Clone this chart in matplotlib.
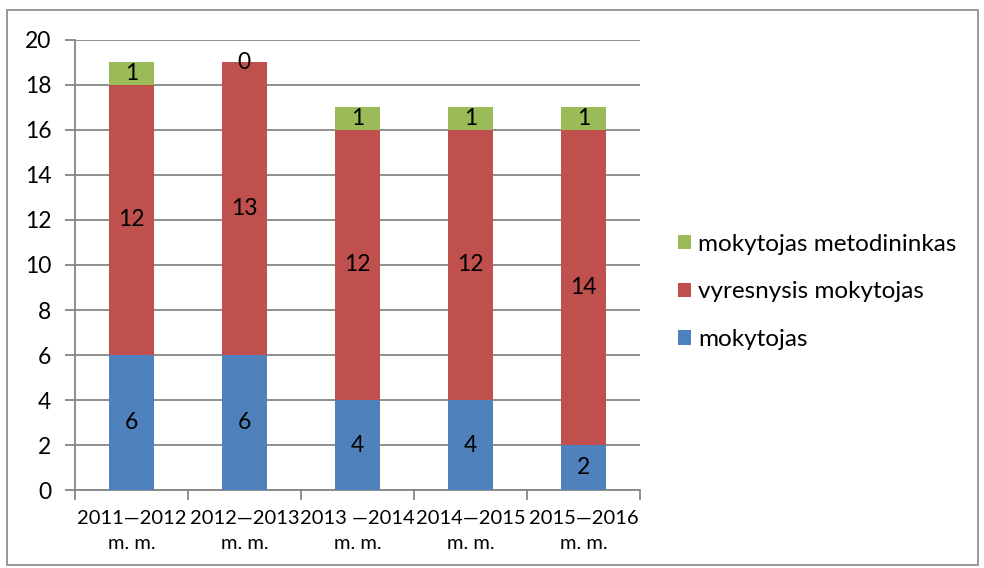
import numpy as np
import matplotlib.pyplot as plt
from matplotlib.patches import Rectangle

plt.rcParams['font.family'] = ['Lato', 'DejaVu Sans']

years = ["2011\u20142012\nm. m.", "2012\u20142013\nm. m.", "2013 \u20142014\nm. m.",
         "2014\u20142015\nm. m.", "2015\u20142016\nm. m."]
mokytojas = [6, 6, 4, 4, 2]
vyresnysis = [12, 13, 12, 12, 14]
metodininkas = [1, 0, 1, 1, 1]

c_blue = "#4F81BD"
c_red = "#C0504D"
c_green = "#9BBB59"

fig = plt.figure(figsize=(9.84, 5.68), dpi=100)
ax = fig.add_axes([0.0762, 0.137, 0.574, 0.793])

x = np.arange(len(years))
w = 0.4
b1 = ax.bar(x, mokytojas, w, color=c_blue, label="mokytojas", zorder=3)
bottom2 = np.array(mokytojas)
b2 = ax.bar(x, vyresnysis, w, bottom=bottom2, color=c_red, label="vyresnysis mokytojas", zorder=3)
bottom3 = bottom2 + np.array(vyresnysis)
b3 = ax.bar(x, metodininkas, w, bottom=bottom3, color=c_green, label="mokytojas metodininkas", zorder=3)

for bars, vals, bots in [(b1, mokytojas, np.zeros(5)), (b2, vyresnysis, bottom2), (b3, metodininkas, bottom3)]:
    for i, v in enumerate(vals):
        ax.text(x[i], bots[i] + v / 2 if v > 0 else bots[i], str(v),
                ha="center", va="center", fontsize=16.5, color="black", zorder=4)

ax.set_xlim(-0.5, len(years) - 0.5)
ax.set_ylim(0, 20)
ax.set_yticks(range(0, 21, 2))
ax.yaxis.grid(True, color="#868686", linewidth=1.3, zorder=0)
ax.set_axisbelow(True)

ax.set_xticks(x)
ax.set_xticklabels(years, fontsize=14.5, linespacing=1.6)
ax.tick_params(axis="x", which="major", length=0, pad=14)
ax.set_xticks(np.arange(-0.5, len(years)), minor=True)
ax.tick_params(axis="x", which="minor", length=7, color="#868686", width=1.3)
ax.tick_params(axis="y", length=7, color="#868686", width=1.3, labelsize=16.5, pad=10)

for s in ["top", "right"]:
    ax.spines[s].set_visible(False)
for s in ["left", "bottom"]:
    ax.spines[s].set_color("#868686")
    ax.spines[s].set_linewidth(1.3)

handles = [b3, b2, b1]
ax.legend(handles, [h.get_label() for h in handles], loc="center left",
          bbox_to_anchor=(1.05, 0.44), frameon=False, fontsize=17.5,
          handlelength=0.55, handleheight=0.55, labelspacing=1.1, handletextpad=0.3,
          borderaxespad=0)

fig.patches.append(Rectangle((0.007, 0.005), 0.987, 0.978, transform=fig.transFigure,
                             fill=False, edgecolor="#868686", linewidth=1.2))

fig.savefig("out.png", dpi=100)
